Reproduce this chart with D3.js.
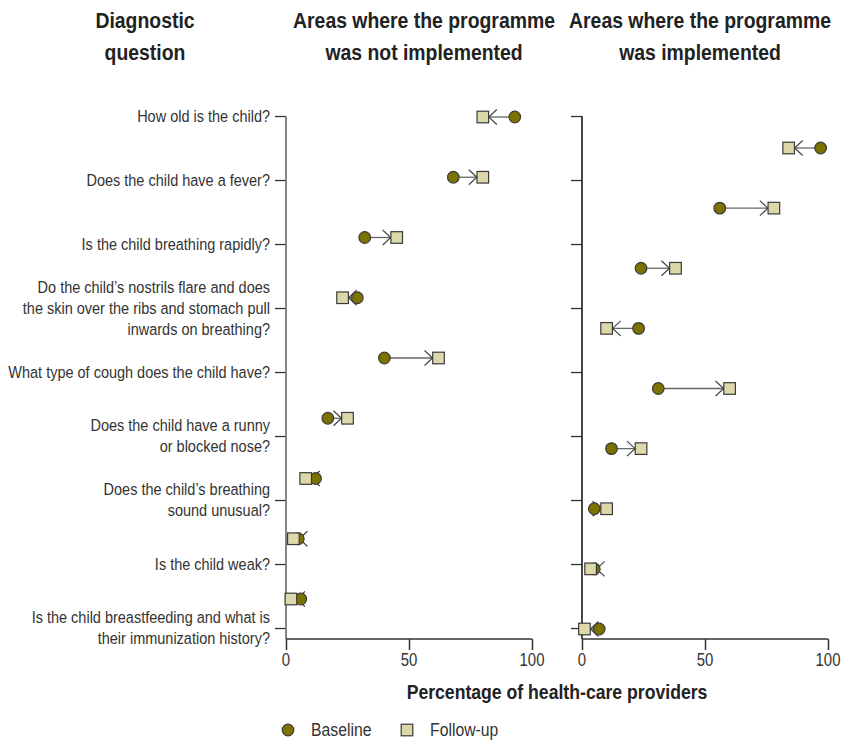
<!DOCTYPE html>
<html>
<head>
<meta charset="utf-8">
<script src="https://cdn.jsdelivr.net/npm/d3@7"></script>
<style>
  html, body { margin: 0; padding: 0; background: #fff; }
  svg { display: block; }
</style>
</head>
<body>
<svg id="chart" width="841" height="742"></svg>
<script>
// ---------------- DATA ----------------
const questions = [
  ["How old is the child?"],
  ["Does the child have a fever?"],
  ["Is the child breathing rapidly?"],
  ["Do the child\u2019s nostrils flare and does", "the skin over the ribs and stomach pull", "inwards on breathing?"],
  ["What type of cough does the child have?"],
  ["Does the child have a runny", "or blocked nose?"],
  ["Does the child\u2019s breathing", "sound unusual?"],
  ["Is the child weak?"],
  ["Is the child breastfeeding and what is", "their immunization history?"]
];
const baselineNotImpl = [93, 68, 32, 29, 40, 17, 12, 5, 6];
const followupNotImpl = [80, 80, 45, 23, 62, 25, 8, 3, 2];
const baselineImpl    = [97, 56, 24, 23, 31, 12, 5, 5, 7];
const followupImpl    = [84, 78, 38, 10, 60, 24, 10, 3.5, 1];
const xTicks = [0, 50, 100];
const panelTitles = [["Areas where the programme", "was not implemented"], ["Areas where the programme", "was implemented"]];
const questionTitle = ["Diagnostic", "question"];
const xTitle = "Percentage of health-care providers";
const legendLabels = ["Baseline", "Follow-up"];

// ---------------- STYLE ----------------
const FONT = "'Liberation Sans', Arial, sans-serif";
const circleFill = "#7b7200";
const squareFill = "#ddd8aa";
const markerStroke = "#3a3a3a";
const textColor = "#333";

const svg = d3.select("#chart");
const idx = d3.range(questions.length);

// measure helper to emulate the condensed typeface by horizontal scaling
function measure(str, size, weight) {
  const t = svg.append("text").attr("font-family", FONT).attr("font-size", size)
    .attr("font-weight", weight).text(str);
  const w = t.node().getComputedTextLength();
  t.remove();
  return w;
}
const kLight = Math.min(
  258 / measure("the skin over the ribs and stomach pull", 17, "normal"),
  262 / measure("What type of cough does the child have?", 17, "normal"));
const kBold = 262 / measure("Areas where the programme", 22, "bold");

function txt(parent, x, y, lines, o) {
  const g = parent.append("g").attr("transform", `translate(${x},${y}) scale(${o.k},1)`);
  const t = g.append("text").attr("font-family", FONT).attr("font-size", o.size)
    .attr("font-weight", o.weight || "normal").attr("fill", o.fill || textColor)
    .attr("text-anchor", o.anchor || "start");
  lines.forEach((l, j) => {
    t.append("tspan").attr("x", 0).attr("y", j * (o.lh || 0)).attr("dy", o.dy || 0).text(l);
  });
  return g;
}

const yTick = d3.scalePoint().domain(idx).range([116, 628]);
const axisBottomY = 639;

const panels = [
  { x: d3.scaleLinear().domain([0, 100]).range([286, 532]),
    y: d3.scalePoint().domain(idx).range([117, 599]),
    base: baselineNotImpl, fu: followupNotImpl, title: panelTitles[0], tcx: 424, axisCol: "#777" },
  { x: d3.scaleLinear().domain([0, 100]).range([582, 828]),
    y: d3.scalePoint().domain(idx).range([148, 629]),
    base: baselineImpl, fu: followupImpl, title: panelTitles[1], tcx: 700, axisCol: "#333" }
];

// Question labels
questions.forEach((lines, i) => {
  const lh = 21;
  const y0 = yTick(i) - (lines.length - 1) * lh / 2;
  txt(svg, 270, y0, lines, { k: kLight, size: 17, lh: lh, dy: "0.35em", anchor: "end" });
});

// Question title
txt(svg, 145, 28, questionTitle, { k: kBold, size: 22, weight: "bold", lh: 32, anchor: "middle", fill: "#222" });

panels.forEach(p => {
  const x0 = p.x.range()[0];
  // y axis ticks
  const gy = svg.append("g").attr("transform", `translate(${x0},0)`)
    .call(d3.axisLeft(yTick).tickSize(11).tickFormat(""));
  gy.select(".domain").remove();
  gy.selectAll(".tick line").attr("stroke", "#333").attr("stroke-width", 1.3);
  svg.append("line").attr("x1", x0).attr("x2", x0).attr("y1", 116).attr("y2", axisBottomY)
    .attr("stroke", p.axisCol).attr("stroke-width", 1.8);

  // x axis
  const gx = svg.append("g").attr("transform", `translate(0,${axisBottomY})`)
    .call(d3.axisBottom(p.x).tickValues(xTicks).tickSize(11).tickFormat(""));
  gx.select(".domain").attr("stroke", "#333").attr("stroke-width", 1.5)
    .attr("d", `M${p.x.range()[0]},0H${p.x.range()[1]}`);
  gx.selectAll(".tick line").attr("stroke", "#333").attr("stroke-width", 1.5);
  xTicks.forEach(v => {
    txt(svg, p.x(v), 660, [d3.format("d")(v)], { k: kLight, size: 17.5, dy: "0.35em", anchor: "middle" });
  });

  // Panel title
  txt(svg, p.tcx, 28, p.title, { k: kBold, size: 22, weight: "bold", lh: 32, anchor: "middle", fill: "#222" });

  // Arrows
  const g = svg.append("g");
  idx.forEach(i => {
    const xb = p.x(p.base[i]), xf = p.x(p.fu[i]), y = p.y(i);
    const dir = xf >= xb ? 1 : -1;
    const tip = xf - dir * 6;
    g.append("line").attr("x1", xb).attr("x2", tip).attr("y1", y).attr("y2", y)
      .attr("stroke", "#666").attr("stroke-width", 1.3);
    g.append("path")
      .attr("d", `M${tip - dir * 8},${y - 7.5}L${tip},${y}L${tip - dir * 8},${y + 7.5}`)
      .attr("fill", "none").attr("stroke", "#444").attr("stroke-width", 1.2);
  });
  // Baseline circles
  g.selectAll("circle").data(idx).join("circle")
    .attr("cx", i => p.x(p.base[i])).attr("cy", i => p.y(i)).attr("r", 5.8)
    .attr("fill", circleFill).attr("stroke", markerStroke).attr("stroke-width", 1.2);
  // Follow-up squares
  g.selectAll("rect").data(idx).join("rect")
    .attr("x", i => p.x(p.fu[i]) - 5.8).attr("y", i => p.y(i) - 5.8)
    .attr("width", 11.6).attr("height", 11.6)
    .attr("fill", squareFill).attr("stroke", markerStroke).attr("stroke-width", 1.2);
});

// X title
txt(svg, 557, 699, [xTitle], { k: kBold, size: 20, weight: "bold", anchor: "middle", fill: "#222" });

// Legend
const lg = svg.append("g");
lg.append("circle").attr("cx", 288).attr("cy", 730).attr("r", 5.8)
  .attr("fill", circleFill).attr("stroke", markerStroke).attr("stroke-width", 1.2);
txt(lg, 311, 730, [legendLabels[0]], { k: kLight, size: 18.5, dy: "0.35em" });
lg.append("rect").attr("x", 407 - 5.8).attr("y", 730 - 5.8).attr("width", 11.6).attr("height", 11.6)
  .attr("fill", squareFill).attr("stroke", markerStroke).attr("stroke-width", 1.2);
txt(lg, 430, 730, [legendLabels[1]], { k: kLight, size: 18.5, dy: "0.35em" });
</script>
</body>
</html>
